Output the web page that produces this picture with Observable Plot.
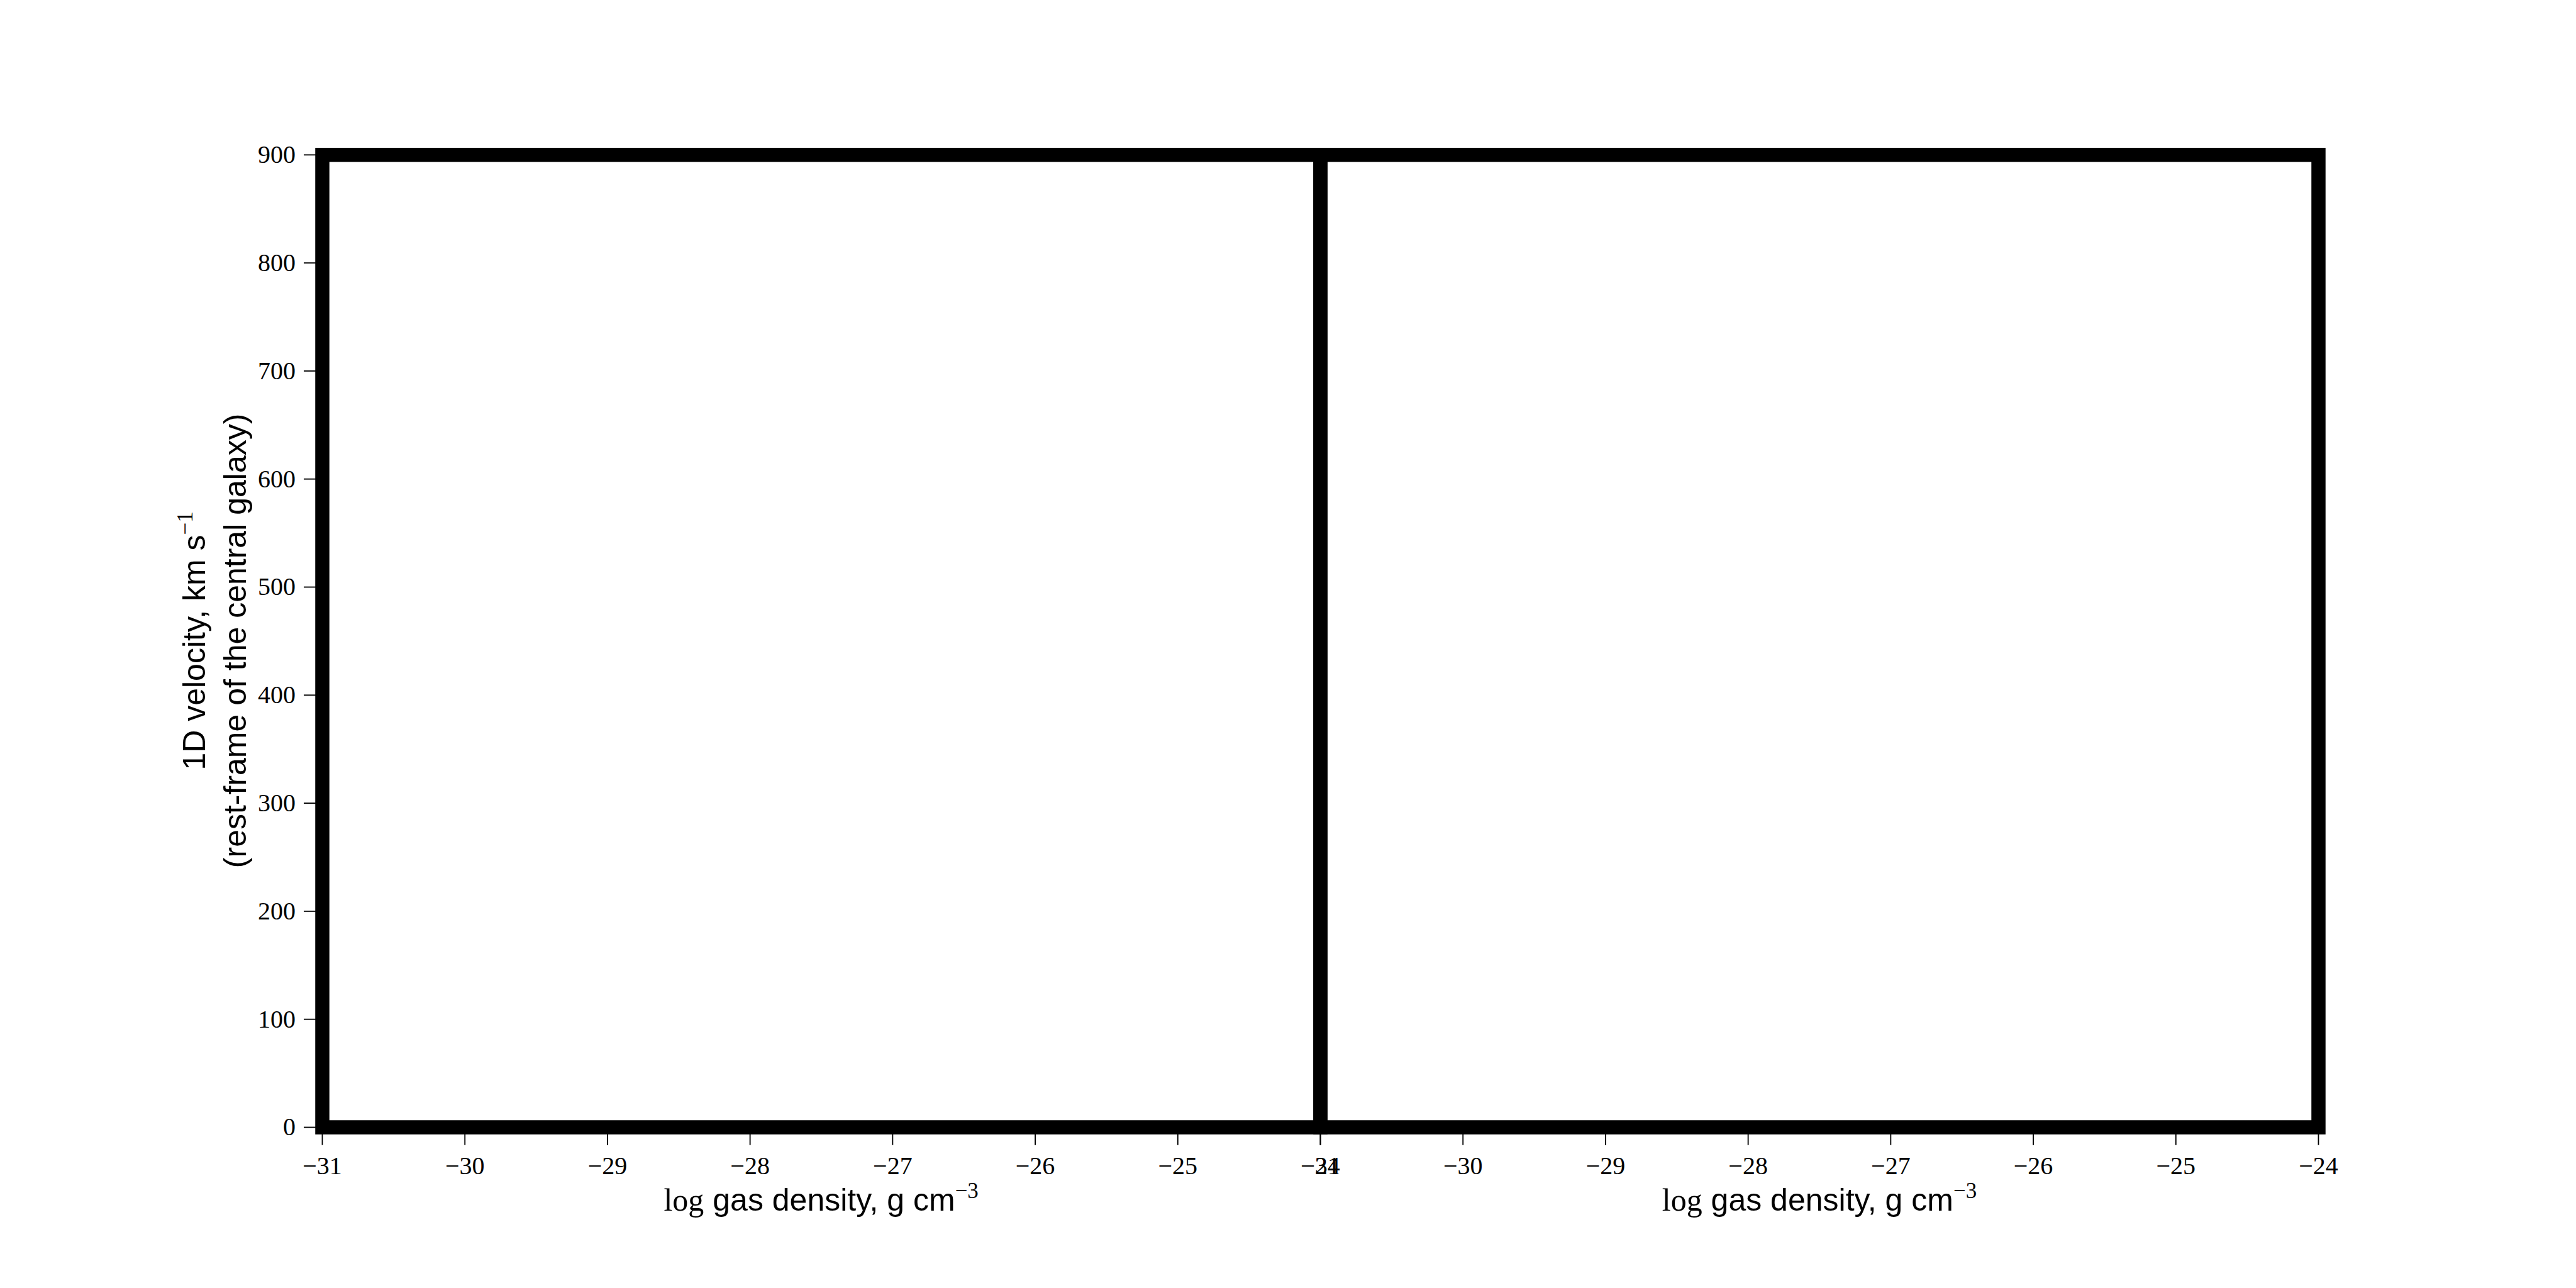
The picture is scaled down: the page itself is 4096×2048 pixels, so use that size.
<!DOCTYPE html>
<html>
<head>
<meta charset="utf-8">
<script src="https://cdn.jsdelivr.net/npm/d3@7"></script>
<script src="https://cdn.jsdelivr.net/npm/@observablehq/plot@0.6"></script>
<style>
  html, body { margin: 0; padding: 0; background: #ffffff; }
  #chart { width: 4096px; height: 2048px; overflow: hidden; }
  text { white-space: pre; }
</style>
</head>
<body>
<div id="chart"></div>
<script>
// ---- data ----
const panels = ["left", "right"];
const xDomain = [-31, -24];
const yDomain = [0, 900];
const xTicks = [-31, -30, -29, -28, -27, -26, -25, -24];
const yTicks = [0, 100, 200, 300, 400, 500, 600, 700, 800, 900];
const yTitleLine1 = "1D velocity, km s";
const yTitleSup = "\u22121";
const yTitleLine2 = "(rest-frame of the central galaxy)";
const xTitleMath = "log";
const xTitleText = " gas density, g cm";
const xTitleSup = "\u22123";

// ---- layout ----
const W = 4096, H = 2048;
const mL = 512, mR = 409.3, mT = 245.8, mB = 256;
const serif = "'Liberation Serif', 'DejaVu Serif', serif";
const sans = "'Liberation Sans', Arial, 'DejaVu Sans', sans-serif";
const fmt = d => String(d).replace("-", "\u2212");

const chart = Plot.plot({
  width: W,
  height: H,
  marginLeft: mL,
  marginRight: mR,
  marginTop: mT,
  marginBottom: mB,
  style: {fontFamily: serif, color: "black", background: "white"},
  fx: {domain: panels, padding: 0, axis: null, label: null},
  x: {domain: xDomain},
  y: {domain: yDomain},
  marks: [
    Plot.text(panels, {fx: d => d, text: () => ""}),
    Plot.axisY(yTicks, {tickSize: 29, tickPadding: 13.5, fontSize: 40, strokeWidth: 1.85, label: null, tickFormat: fmt}),
    Plot.axisX(xTicks, {tickSize: 28.7, tickPadding: 17.5, fontSize: 40, strokeWidth: 1.85, label: null, tickFormat: fmt}),
    Plot.frame({stroke: "black", strokeWidth: 22.5})
  ]
});

document.getElementById("chart").appendChild(chart);

// ---- axis titles ----
const svg = d3.select(chart);
const panelW = (W - mL - mR) / panels.length;
const cy = (mT + (H - mB)) / 2;

panels.forEach((p, i) => {
  const cx = mL + panelW * (i + 0.5);
  const t = svg.append("text")
    .attr("x", cx)
    .attr("y", 1925)
    .attr("text-anchor", "middle")
    .attr("font-size", 50)
    .attr("fill", "black");
  t.append("tspan").attr("font-family", serif).text(xTitleMath);
  t.append("tspan").attr("font-family", sans).text(xTitleText);
  t.append("tspan").attr("font-family", serif).attr("font-size", 35).attr("dy", -20).text(xTitleSup);
});

const y1 = svg.append("text")
  .attr("transform", `translate(326,${cy}) rotate(-90)`)
  .attr("text-anchor", "middle")
  .attr("font-size", 50)
  .attr("font-family", sans)
  .attr("fill", "black");
y1.append("tspan").text(yTitleLine1);
y1.append("tspan").attr("font-family", serif).attr("font-size", 35).attr("dy", -20).text(yTitleSup);

svg.append("text")
  .attr("transform", `translate(391,${cy}) rotate(-90)`)
  .attr("text-anchor", "middle")
  .attr("font-size", 50)
  .attr("font-family", sans)
  .attr("fill", "black")
  .text(yTitleLine2);
</script>
</body>
</html>
